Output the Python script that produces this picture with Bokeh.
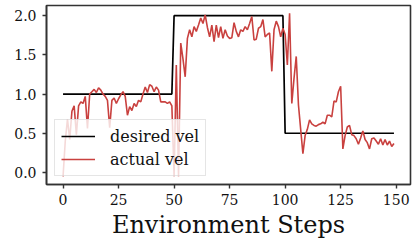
from bokeh.plotting import figure
from bokeh.models import Range1d, FixedTicker, Legend, LegendItem, NumeralTickFormatter
from bokeh.embed import file_html
from bokeh.resources import INLINE

steps = list(range(150))
desired_vel = [1.0] * 50 + [2.0] * 50 + [0.5] * 50
actual_vel = [
    -0.05, 0.40, 0.68, 0.42, 0.78, 0.85, 0.48, 0.85, 0.90, 0.88,
    0.97, 0.56, 1.00, 1.03, 1.06, 1.02, 1.08, 1.05, 1.00, 0.97,
    0.92, 0.57, 0.92, 0.95, 0.88, 0.94, 0.99, 1.03, 0.97, 0.73,
    0.84, 0.79, 0.88, 0.84, 0.92, 0.90, 1.00, 1.09, 1.02, 1.12,
    1.10, 1.03, 1.09, 1.05, 0.90, 0.90, 0.90, 0.88, 0.90, 0.85,
    -0.05, 1.37, -0.05, 1.65, 1.45, 1.22, 1.71, 1.82, 1.73, 1.86,
    1.80, 1.88, 1.97, 1.90, 2.01, 1.85, 1.73, 1.88, 1.67, 1.88,
    1.72, 1.86, 1.71, 1.82, 1.74, 1.71, 1.72, 1.91, 1.80, 1.73,
    1.82, 1.80, 1.86, 1.82, 1.90, 1.99, 1.69, 1.70, 1.84, 1.86,
    1.95, 1.73, 1.76, 1.78, 1.29, 1.82, 1.93, 1.86, 1.73, 1.84,
    1.76, 1.37, 2.03, 0.88, 1.20, 1.48, 0.86, 0.55, 0.24, 0.47,
    0.55, 0.67, 0.62, 0.60, 0.59, 0.61, 0.62, 0.64, 0.62, 0.73,
    0.73, 0.71, 0.91, 0.90, 1.03, 1.10, 0.30, 0.47, 0.58, 0.60,
    0.48, 0.47, 0.43, 0.36, 0.44, 0.53, 0.42, 0.38, 0.30, 0.43,
    0.44, 0.40, 0.36, 0.43, 0.35, 0.42, 0.35, 0.40, 0.33, 0.37,
]
x_ticks = [0, 25, 50, 75, 100, 125, 150]
y_ticks = [0.0, 0.5, 1.0, 1.5, 2.0]
x_label = "Environment Steps"
legend_labels = ["desired vel", "actual vel"]

FONT = "DejaVu Serif"
SPINE = "#333333"

p = figure(
    width=414, height=241,
    output_backend="svg", toolbar_location=None,
    x_range=Range1d(-7.45, 156.45), y_range=Range1d(-0.154, 2.13),
    min_border_left=46, min_border_right=4, min_border_top=5, min_border_bottom=57,
    background_fill_color="white", border_fill_color="white",
)
p.grid.visible = False
p.outline_line_color = SPINE
p.outline_line_width = 1.6
p.outline_line_alpha = 1.0

for ax in (p.xaxis[0], p.yaxis[0]):
    ax.axis_line_color = SPINE
    ax.axis_line_width = 1.6
    ax.major_tick_line_color = SPINE
    ax.major_tick_line_width = 1.4
    ax.major_tick_out = 4
    ax.major_tick_in = 0
    ax.minor_tick_line_color = None
    ax.major_label_text_font = FONT
    ax.major_label_text_font_size = "14px"
    ax.major_label_text_color = "#111111"

p.xaxis.major_label_standoff = 5
p.yaxis.major_label_standoff = 6
p.xaxis.ticker = FixedTicker(ticks=x_ticks)
p.yaxis.ticker = FixedTicker(ticks=y_ticks)
p.yaxis.formatter = NumeralTickFormatter(format="0.0")
p.xaxis.axis_label = x_label
p.xaxis.axis_label_text_font = FONT
p.xaxis.axis_label_text_font_size = "24px"
p.xaxis.axis_label_text_font_style = "normal"
p.xaxis.axis_label_text_color = "#111111"
p.xaxis.axis_label_standoff = 3

r_des = p.line(steps, desired_vel, line_color="black", line_width=1.7)
r_act = p.line(steps, actual_vel, line_color="#c9413f", line_width=1.6)

legend = Legend(
    items=[LegendItem(label=legend_labels[0], renderers=[r_des]),
           LegendItem(label=legend_labels[1], renderers=[r_act])],
    location="bottom_left", margin=8, padding=6, spacing=3,
    glyph_width=34, glyph_height=20, label_height=20, label_standoff=15,
    label_text_font=FONT, label_text_font_size="16px", label_text_color="#111111",
    border_line_color="#cccccc", border_line_width=1.2,
    background_fill_alpha=0.8,
)
p.add_layout(legend)

open("out.html", "w").write(file_html(p, INLINE))
